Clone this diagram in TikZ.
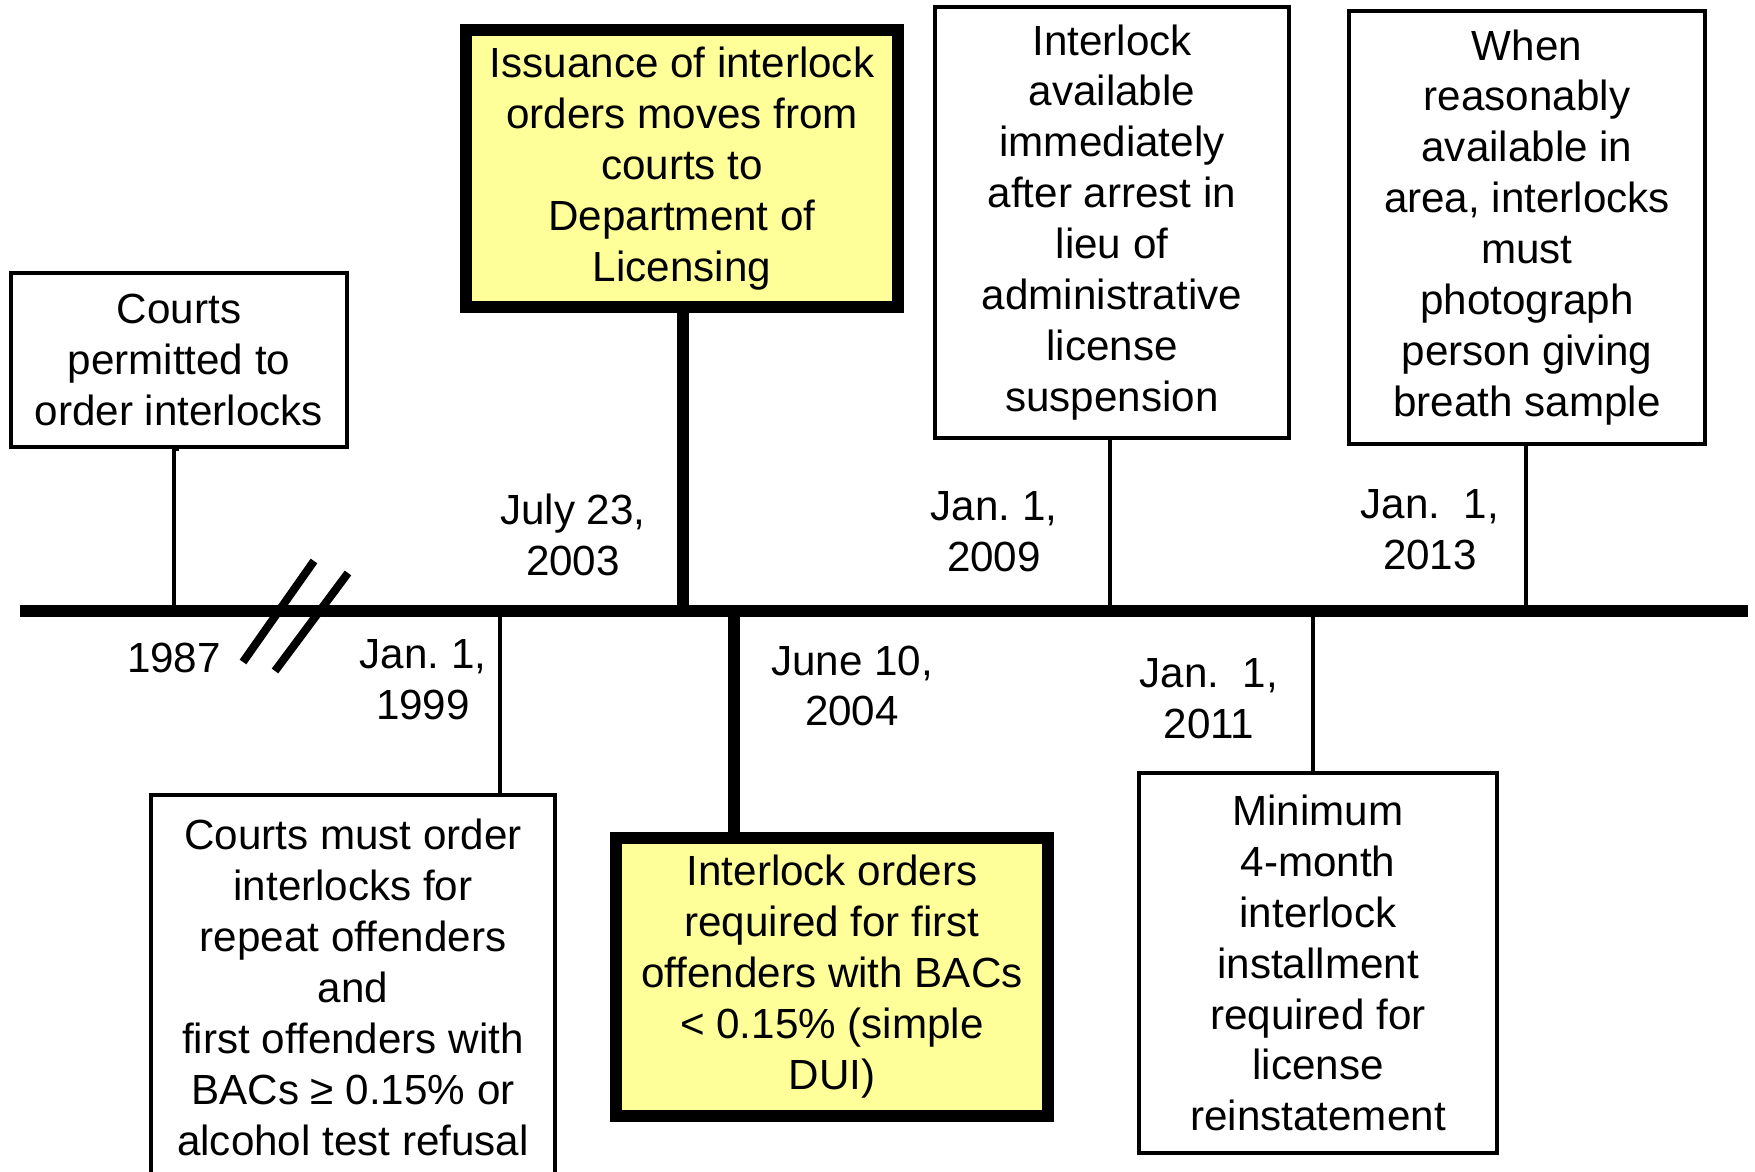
\documentclass[tikz,border=0pt]{standalone}
\usepackage{fontspec}
\setmainfont{Liberation Sans}
\usepackage{tikz}
\definecolor{notefill}{RGB}{255,255,153}
\frenchspacing

\begin{document}
\begin{tikzpicture}[x=0.1mm, y=-0.1mm,
  every node/.style={font=\fontsize{12}{14.5}\selectfont, align=center, inner sep=0pt},
  event/.style={draw, line width=1pt, fill=white},
  keyevent/.style={draw, line width=3.4pt, fill=notefill},
  thin/.style={line width=1pt},
  heavy/.style={line width=3.4pt}]
\useasboundingbox (0,0) rectangle (1755,1172);
\clip (0,0) rectangle (1755,1172);
%
% time line with the points where the events sit
\draw[line width=3.2pt] (20,611) -- (1748,611);
\coordinate (d1987) at (174,611);
\coordinate (d1999) at (500,611);
\coordinate (d2003) at (683,611);
\coordinate (d2004) at (734,611);
\coordinate (d2009) at (1110,611);
\coordinate (d2011) at (1313,611);
\coordinate (d2013) at (1526,611);
%
% break in the time line
\draw[line width=2.3pt] (314,561) -- (243,662);
\draw[line width=2.3pt] (348,573) -- (275,671);
%
% events above the line
\node[event, minimum width=33.6mm, minimum height=17.4mm] (permit) at (179,360)
  {Courts\\permitted to\\order interlocks};
\node[keyevent, minimum width=43.2mm, minimum height=27.7mm] (dol) at (682,168.5)
  {Issuance of interlock\\orders moves from\\courts to\\Department of\\Licensing};
\node[event, minimum width=35.4mm, minimum height=43.1mm] (arrest) at (1112,222.5)
  {Interlock\\available\\immediately\\after arrest in\\lieu of\\administrative\\license\\suspension};
\node[event, minimum width=35.6mm, minimum height=43.3mm] (photo) at (1527,227.5)
  {When\\reasonably\\available in\\area, interlocks\\must\\photograph\\person giving\\breath sample};
%
% events below the line
\node[event, minimum width=40.4mm, minimum height=38.5mm] (must) at (353,987.5)
  {Courts must order\\interlocks for\\repeat offenders\\and\\first offenders with\\BACs ≥ 0.15\% or\\alcohol test refusal};
\node[keyevent, minimum width=43.2mm, minimum height=27.8mm] (first) at (832,977)
  {Interlock orders\\required for first\\offenders with BACs\\< 0.15\% (simple\\DUI)};
\node[event, minimum width=35.8mm, minimum height=38mm] (reinst) at (1318,963)
  {Minimum\\4-month\\interlock\\installment\\required for\\license\\reinstatement};
%
% connectors
\draw[thin] (permit.south) -- (permit.south -| d1987) -- (d1987);
\draw[thin] (d1999) -- (d1999 |- must.north);
\draw[heavy] (dol.south -| d2003) -- (d2003);
\draw[heavy] (d2004) -- (d2004 |- first.north);
\draw[thin] (arrest.south -| d2009) -- (d2009);
\draw[thin] (d2011) -- (d2011 |- reinst.north);
\draw[thin] (photo.south -| d2013) -- (d2013);
%
% dates
\node (y1987) at (174,658) {1987};
\node (y1999) at (423,680) {Jan. 1,\\1999};
\node (y2003) at (573,535) {July 23,\\2003};
\node (y2004) at (852,686) {June 10,\\2004};
\node (y2009) at (994,532) {Jan. 1,\\2009};
\node (y2011) at (1209,699) {Jan.\ \ 1,\\2011};
\node (y2013) at (1430,530) {Jan.\ \ 1,\\2013};
\end{tikzpicture}
\end{document}
